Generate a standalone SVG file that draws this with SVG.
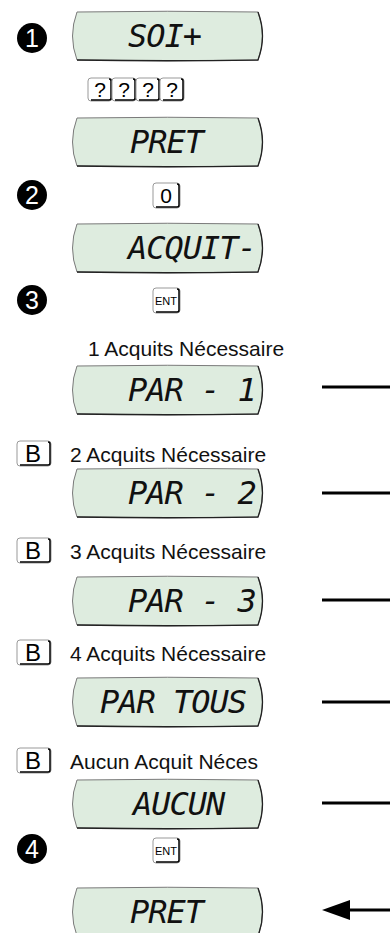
<svg xmlns="http://www.w3.org/2000/svg" width="390" height="933" viewBox="0 0 390 933">
<style>
.lcd{fill:#deecdf;stroke:#7a7a7a;stroke-width:1}
.lcdsh{fill:none;stroke:#222;stroke-width:1.3}
.seg{font-family:"DejaVu Sans Mono",monospace;font-style:oblique;font-size:32px;letter-spacing:-1px;fill:#111}
.lbl{font-family:"Liberation Sans",Arial,sans-serif;font-size:21px;fill:#111}
.num{fill:#000}
.numt{font-family:"Liberation Sans",Arial,sans-serif;font-size:25px;fill:#fff;text-anchor:middle}
.keyo{fill:#fff;stroke:#999;stroke-width:1}
.keyi{fill:none;stroke:#000;stroke-width:1.5}
.keyt{font-family:"Liberation Sans",Arial,sans-serif;font-size:21px;fill:#000;text-anchor:middle}
.keyb{font-family:"Liberation Sans",Arial,sans-serif;font-size:24px;fill:#000;text-anchor:middle}
.keys{font-family:"Liberation Sans",Arial,sans-serif;font-size:11px;fill:#000;text-anchor:middle}
.conn{stroke:#000;stroke-width:3;fill:none}
</style>
<defs>
<g id="lcd">
<path class="lcd" d="M7,0 Q97,-1.5 188,0 Q197,24 188,48 Q97,49.5 7,48 Q-2,24 7,0 Z"/>
<path class="lcdsh" d="M188,0 Q197,24 188,48 Q97,49.5 7,48"/>
</g>
<g id="key">
<rect class="keyo" x="0" y="0" width="24" height="23" rx="3"/>
<path class="keyi" d="M3,22 L21,22 Q23,22 23,20 L23,3 Q23,1 21,1"/>
</g>
<g id="keyw">
<rect class="keyo" x="0" y="0" width="27" height="25" rx="3"/>
<path class="keyi" d="M3,24 L24,24 Q26,24 26,22 L26,3 Q26,1 24,1"/>
</g>
<g id="bkey">
<rect class="keyo" x="0" y="0" width="34" height="25" rx="3"/>
<path class="keyi" d="M3,24 L31,24 Q33,24 33,22 L33,3 Q33,1 31,1"/>
</g>
</defs>

<g id="step1">
<circle class="num" cx="32" cy="38" r="15"/>
<text class="numt" x="32" y="47">1</text>
</g>
<g id="disp-soi">
<use href="#lcd" x="70" y="12"/>
<text class="seg" x="128" y="47">SOI+</text>
</g>
<g id="keys-code">
<use href="#key" x="88" y="78"/><text class="keyt" x="100" y="97">?</text>
<use href="#key" x="112" y="78"/><text class="keyt" x="124" y="97">?</text>
<use href="#key" x="136" y="78"/><text class="keyt" x="148" y="97">?</text>
<use href="#key" x="160" y="78"/><text class="keyt" x="172" y="97">?</text>
</g>
<g id="disp-pret1">
<use href="#lcd" x="70" y="118"/>
<text class="seg" x="130" y="153">PRET</text>
</g>
<g id="step2">
<circle class="num" cx="32" cy="195" r="15"/>
<text class="numt" x="32" y="204">2</text>
</g>
<g id="key-0">
<use href="#keyw" x="153" y="183"/><text class="keyt" x="166" y="203">0</text>
</g>
<g id="disp-acquit">
<use href="#lcd" x="70" y="224"/>
<text class="seg" x="128" y="259">ACQUIT-</text>
</g>
<g id="step3">
<circle class="num" cx="32" cy="300" r="15"/>
<text class="numt" x="32" y="309">3</text>
</g>
<g id="key-ent1">
<use href="#keyw" x="153" y="288"/><text class="keys" x="166" y="305">ENT</text>
</g>
<g id="opt1">
<text class="lbl" x="88" y="356">1 Acquits Nécessaire</text>
<use href="#lcd" x="70" y="366"/>
<text class="seg" x="128" y="401">PAR - 1</text>
</g>
<g id="opt2">
<use href="#bkey" x="17" y="441"/><text class="keyb" x="33" y="462">B</text>
<text class="lbl" x="70" y="462">2 Acquits Nécessaire</text>
<use href="#lcd" x="70" y="469"/>
<text class="seg" x="128" y="504">PAR - 2</text>
</g>
<g id="opt3">
<use href="#bkey" x="17" y="538"/><text class="keyb" x="33" y="559">B</text>
<text class="lbl" x="70" y="559">3 Acquits Nécessaire</text>
<use href="#lcd" x="70" y="577"/>
<text class="seg" x="128" y="612">PAR - 3</text>
</g>
<g id="opt4">
<use href="#bkey" x="17" y="640"/><text class="keyb" x="33" y="661">B</text>
<text class="lbl" x="70" y="661">4 Acquits Nécessaire</text>
<use href="#lcd" x="70" y="678"/>
<text class="seg" x="100" y="713">PAR TOUS</text>
</g>
<g id="opt5">
<use href="#bkey" x="17" y="748"/><text class="keyb" x="33" y="769">B</text>
<text class="lbl" x="70" y="769">Aucun Acquit Néces</text>
<use href="#lcd" x="70" y="780"/>
<text class="seg" x="133" y="815">AUCUN</text>
</g>
<g id="step4">
<circle class="num" cx="32" cy="849" r="15"/>
<text class="numt" x="32" y="858">4</text>
</g>
<g id="key-ent2">
<use href="#keyw" x="153" y="838"/><text class="keys" x="166" y="855">ENT</text>
</g>
<g id="disp-pret2">
<use href="#lcd" x="70" y="888"/>
<text class="seg" x="130" y="923">PRET</text>
</g>
<g id="connectors">
<line class="conn" x1="322" y1="387" x2="390" y2="387"/>
<line class="conn" x1="322" y1="493" x2="390" y2="493"/>
<line class="conn" x1="322" y1="600" x2="390" y2="600"/>
<line class="conn" x1="322" y1="702" x2="390" y2="702"/>
<line class="conn" x1="322" y1="803" x2="390" y2="803"/>
<line class="conn" x1="390" y1="910" x2="345" y2="910"/>
<path d="M322,910 L350,900 L350,920 Z" fill="#000"/>
</g>
</svg>
